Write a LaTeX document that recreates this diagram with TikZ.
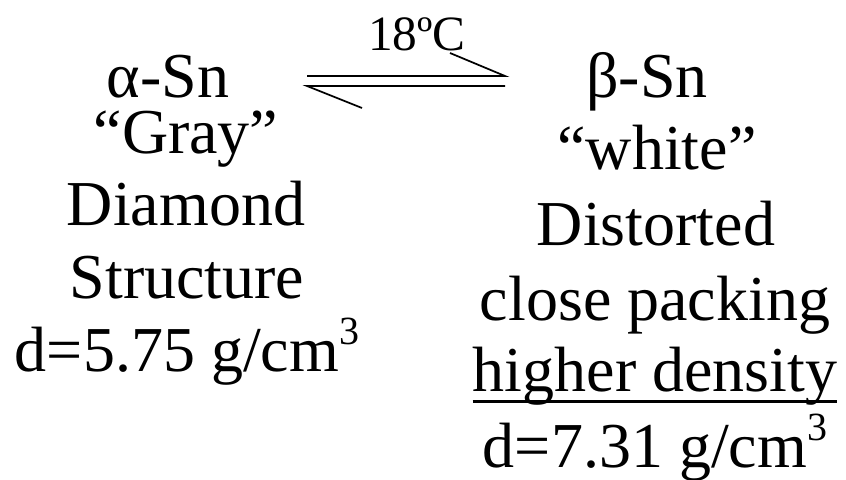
\documentclass[tikz,border=0pt]{standalone}
\usepackage{fontspec}
\setmainfont{Liberation Serif}
\usetikzlibrary{positioning}
\tikzset{
  big/.style={font=\fontsize{48}{57}\selectfont,inner sep=0pt,anchor=base},
  temp/.style={font=\fontsize{37}{44}\selectfont,inner sep=0pt,anchor=base},
  eqline/.style={line width=1.3pt},
  uline/.style={line width=2.2pt}}
\newcommand{\cubed}{\raisebox{.42em}{\fontsize{30}{30}\selectfont 3}}

\begin{document}
\begin{tikzpicture}[x=.75pt,y=-.75pt]
\path[use as bounding box] (0,0) rectangle (846,479);
% alpha tin
\node[big] (alpha) at (168,97) {α-Sn};
\node[big] (gray) at (186,153) {“Gray”};
\node[big] (diam) at (186,225) {Diamond};
\node[big] (struc) at (187,298) {Structure};
\node[big] (dleft) at (187,371) {d=5.75 g/cm\cubed};
% beta tin
\node[big] (beta) at (647,97) {β-Sn};
\node[big] (white) at (657,169) {“white”};
\node[big] (dist) at (656,245) {Distorted};
\node[big] (close) at (655,320) {close packing};
\node[big] (high) at (655,391) {higher density};
\draw[uline] ([yshift=-8pt]high.base west) -- ([yshift=-8pt]high.base east);
\node[big] (dright) at (655,467) {d=7.31 g/cm\cubed};
% equilibrium
\node[temp] (temp) at (417,50) {18ºC};
\coordinate (eqL) at (307,81);
\coordinate (eqR) at (505,81);
\draw[eqline] ([yshift=3.75pt]eqL) -- ([yshift=3.75pt]eqR) -- ++(-55,-23);
\draw[eqline] ([yshift=-3.75pt]eqR) -- ([yshift=-3.75pt]eqL) -- ++(55,22);
\end{tikzpicture}
\end{document}
